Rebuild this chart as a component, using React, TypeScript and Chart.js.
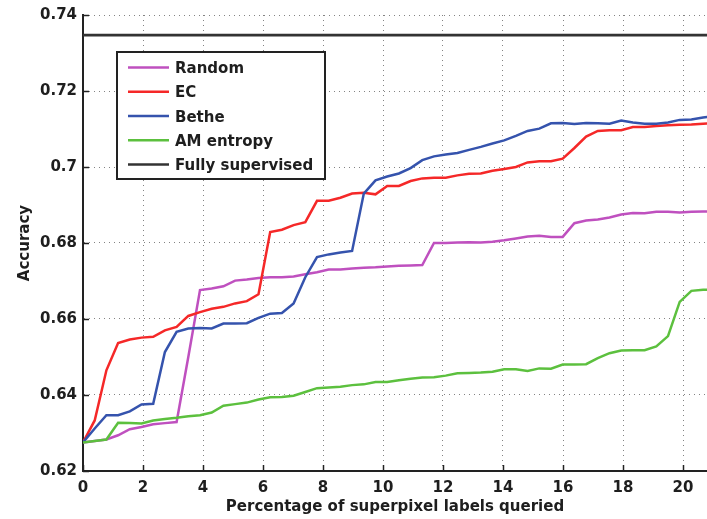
import React, { useEffect, useRef } from "react";
import { Chart, registerables } from "chart.js";

Chart.register(...registerables);

// ---- data ----
const xValues = [
  0, 0.39, 0.78, 1.17, 1.56, 1.95, 2.34, 2.73, 3.12, 3.51,
  3.9, 4.29, 4.68, 5.07, 5.46, 5.85, 6.24, 6.63, 7.02, 7.41,
  7.8, 8.19, 8.58, 8.97, 9.36, 9.75, 10.14, 10.53, 10.92, 11.31,
  11.7, 12.09, 12.48, 12.87, 13.26, 13.65, 14.04, 14.43, 14.82, 15.21,
  15.6, 15.99, 16.38, 16.77, 17.16, 17.55, 17.94, 18.33, 18.72, 19.11,
  19.5, 19.89, 20.28, 20.67, 21.06,
];

const randomAcc = [
  0.6275, 0.6279, 0.6283, 0.6294, 0.631, 0.6316, 0.6323, 0.6326, 0.6329, 0.65,
  0.6676, 0.668, 0.6686, 0.6701, 0.6704, 0.6708, 0.671, 0.671, 0.6712, 0.6718,
  0.6723, 0.673, 0.673, 0.6733, 0.6735, 0.6736, 0.6738, 0.674, 0.6741, 0.6742,
  0.68, 0.68, 0.6801, 0.6802, 0.6801, 0.6803, 0.6807, 0.6812, 0.6817, 0.6819,
  0.6816, 0.6816, 0.6852, 0.6859, 0.6862, 0.6867, 0.6875, 0.6879, 0.6878, 0.6882,
  0.6882, 0.688, 0.6882, 0.6883, 0.6883,
];

const ecAcc = [
  0.6275, 0.6333, 0.6465, 0.6537, 0.6546, 0.6551, 0.6553, 0.657, 0.6579, 0.6608,
  0.6618, 0.6627, 0.6632, 0.6641, 0.6647, 0.6665, 0.6829, 0.6835, 0.6847, 0.6855,
  0.6911, 0.6911, 0.6919, 0.693, 0.6932, 0.6928, 0.695, 0.695, 0.6963, 0.697,
  0.6972, 0.6972, 0.6978, 0.6982, 0.6983, 0.699, 0.6995, 0.7, 0.7012, 0.7015,
  0.7015, 0.7022, 0.705, 0.708, 0.7095, 0.7097, 0.7097, 0.7105, 0.7105, 0.7108,
  0.711, 0.7111, 0.7112, 0.7114, 0.7115,
];

const betheAcc = [
  0.6275, 0.6312, 0.6347, 0.6347, 0.6357, 0.6375, 0.6377, 0.6513, 0.6566, 0.6575,
  0.6576, 0.6575, 0.6588, 0.6588, 0.6589, 0.6603, 0.6614, 0.6616, 0.6641, 0.671,
  0.6763, 0.677, 0.6775, 0.6779, 0.693, 0.6965, 0.6975, 0.6983, 0.6997, 0.7018,
  0.7028, 0.7033, 0.7037, 0.7045, 0.7053, 0.7062, 0.707, 0.7082, 0.7095, 0.7101,
  0.7115, 0.7116, 0.7113, 0.7116, 0.7115, 0.7114, 0.7122, 0.7117, 0.7114, 0.7114,
  0.7117, 0.7124, 0.7125, 0.713, 0.7135,
];

const amEntropyAcc = [
  0.6275, 0.6279, 0.6283, 0.6327, 0.6326, 0.6325, 0.6333, 0.6337, 0.634, 0.6344,
  0.6347, 0.6354, 0.6372, 0.6376, 0.638, 0.6388, 0.6394, 0.6395, 0.6398, 0.6408,
  0.6418, 0.642, 0.6422, 0.6426, 0.6428, 0.6434, 0.6434, 0.6439, 0.6443, 0.6446,
  0.6447, 0.6451, 0.6457, 0.6458, 0.6459, 0.6461, 0.6468, 0.6468, 0.6463, 0.647,
  0.6469, 0.648, 0.648, 0.6481, 0.6497, 0.651, 0.6517, 0.6518, 0.6518, 0.6528,
  0.6555, 0.6645, 0.6674, 0.6677, 0.6677,
];

const fullySupervisedAcc = 0.7347;

const xTicks = [0, 2, 4, 6, 8, 10, 12, 14, 16, 18, 20];
const yTicks = [0.62, 0.64, 0.66, 0.68, 0.7, 0.72, 0.74];

const seriesLabels = ["Random", "EC", "Bethe", "AM entropy", "Fully supervised"];
const seriesColors = ["#bf50bf", "#f52828", "#3553ad", "#5cc03e", "#333333"];

const X_MIN = 0;
const X_MAX = 20.8;
const Y_MIN = 0.62;
const Y_MAX = 0.74;

const FONT = "'DejaVu Sans', 'Liberation Sans', sans-serif";
const TEXT = "#1e1e1e";
const GRID = "rgba(90,90,90,0.75)";

const toPoints = (ys: number[]) => xValues.map((x, i) => ({ x, y: ys[i] }));

const decorPlugin = {
  id: "matlabDecor",
  afterDraw(chart: any) {
    const { ctx, chartArea, scales } = chart;
    ctx.save();
    // inward tick marks
    ctx.strokeStyle = "#222";
    ctx.lineWidth = 1.5;
    scales.x.ticks.forEach((t: any) => {
      const px = Math.round(scales.x.getPixelForValue(t.value)) + 0.5;
      ctx.beginPath();
      ctx.moveTo(px, chartArea.bottom);
      ctx.lineTo(px, chartArea.bottom - 6);
      ctx.stroke();
    });
    scales.y.ticks.forEach((t: any) => {
      const py = Math.round(scales.y.getPixelForValue(t.value)) + 0.5;
      ctx.beginPath();
      ctx.moveTo(chartArea.left, py);
      ctx.lineTo(chartArea.left + 6, py);
      ctx.stroke();
    });

    // legend box
    const bx = chartArea.left + 34;
    const by = 52;
    const bw = 208;
    const bh = 127;
    ctx.fillStyle = "#ffffff";
    ctx.fillRect(bx, by, bw, bh);
    ctx.strokeStyle = "#222";
    ctx.lineWidth = 2;
    ctx.strokeRect(bx, by, bw, bh);

    ctx.font = `bold 15px ${FONT}`;
    ctx.textAlign = "left";
    ctx.textBaseline = "alphabetic";
    chart.data.datasets.forEach((ds: any, i: number) => {
      const cy = by + 15.5 + i * 24.25;
      ctx.strokeStyle = ds.borderColor;
      ctx.lineWidth = 2.5;
      ctx.beginPath();
      ctx.moveTo(bx + 11, cy);
      ctx.lineTo(bx + 52, cy);
      ctx.stroke();
      ctx.fillStyle = TEXT;
      ctx.fillText(ds.label, bx + 58, cy + 5.5);
    });
    ctx.restore();
  },
};

export default function App() {
  const canvasRef = useRef<HTMLCanvasElement | null>(null);

  useEffect(() => {
    if (!canvasRef.current) return;
    const seriesData = [
      toPoints(randomAcc),
      toPoints(ecAcc),
      toPoints(betheAcc),
      toPoints(amEntropyAcc),
      [
        { x: xValues[0], y: fullySupervisedAcc },
        { x: xValues[xValues.length - 1], y: fullySupervisedAcc },
      ],
    ];
    const chart = new Chart(canvasRef.current, {
      type: "line",
      data: {
        datasets: seriesData.map((d, i) => ({
          label: seriesLabels[i],
          data: d,
          borderColor: seriesColors[i],
          backgroundColor: seriesColors[i],
          borderWidth: i === 4 ? 2.8 : 2.5,
          pointRadius: 0,
          tension: 0,
          fill: false,
          order: seriesLabels.length - i,
        })),
      },
      options: {
        animation: false,
        responsive: false,
        devicePixelRatio: 1,
        layout: { padding: { top: 15, left: 0, right: 0, bottom: 0 } },
        plugins: {
          legend: { display: false },
          tooltip: { enabled: false },
        },
        scales: {
          x: {
            type: "linear",
            min: X_MIN,
            max: X_MAX,
            afterBuildTicks: (scale: any) => {
              scale.ticks = xTicks.map((v) => ({ value: v }));
            },
            afterFit: (scale: any) => {
              scale.height = 48;
            },
            ticks: {
              includeBounds: false,
              padding: 8,
              color: TEXT,
              font: { family: FONT, size: 15, weight: "bold" },
              callback: (v: any) => String(v),
            },
            grid: {
              color: GRID,
              lineWidth: 1,
              drawTicks: false,
            },
            border: { display: true, color: "#222", width: 2, dash: [1, 4] },
            title: {
              display: true,
              text: "Percentage of superpixel labels queried",
              color: TEXT,
              font: { family: FONT, size: 15, weight: "bold" },
              padding: { top: 0, bottom: 3 },
            },
          },
          y: {
            type: "linear",
            min: Y_MIN,
            max: Y_MAX,
            afterBuildTicks: (scale: any) => {
              scale.ticks = yTicks.map((v) => ({ value: v }));
            },
            afterFit: (scale: any) => {
              scale.width = 83;
            },
            ticks: {
              padding: 6,
              color: TEXT,
              font: { family: FONT, size: 15, weight: "bold" },
              callback: (v: any) => String(Number(Number(v).toFixed(2))),
            },
            grid: {
              color: GRID,
              lineWidth: 1,
              drawTicks: false,
            },
            border: { display: true, color: "#222", width: 2, dash: [1, 4] },
            title: {
              display: true,
              text: "Accuracy",
              color: TEXT,
              font: { family: FONT, size: 15, weight: "bold" },
              padding: { top: 16, bottom: 0 },
            },
          },
        },
      } as any,
      plugins: [decorPlugin],
    });
    return () => chart.destroy();
  }, []);

  return (
    <div style={{ position: "absolute", left: 0, top: 0, width: 707, height: 519, background: "#fff" }}>
      <canvas ref={canvasRef} width={707} height={519} />
    </div>
  );
}
